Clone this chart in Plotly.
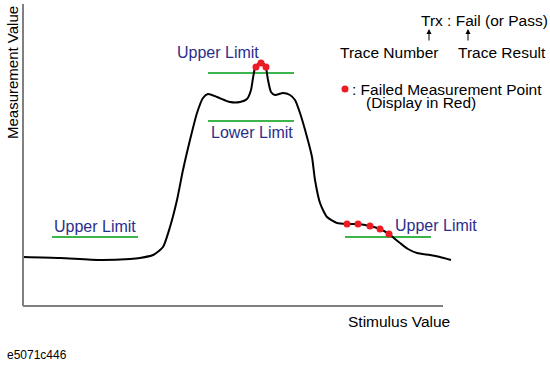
import plotly.graph_objects as go

# Trace (stimulus units, measurement units; origin at the axis corner)
trace_x = [0, 37, 77, 107, 117, 130, 140, 147, 154, 160, 167, 174, 180, 185, 194, 207, 217,
           224, 228, 230, 232, 235, 238, 241, 243, 245, 248, 252, 260, 267, 272, 277, 284,
           289, 292, 297, 304, 314, 324, 335, 347, 357, 366, 372, 377, 385, 394, 407, 417, 428]
trace_y = [49, 48, 46, 47, 48, 51, 59, 79, 106, 136, 166, 193, 208, 212, 209, 204, 204,
           207, 216, 228, 238, 242, 243, 242, 238, 226, 214, 211, 213, 211, 206, 193, 169,
           149, 126, 103, 89, 83, 82, 82, 80, 77, 72, 67, 63, 57, 53, 51, 49, 46]

# Failed measurement points
fail_x = [233, 238, 243, 324, 335, 347, 357, 366]
fail_y = [239, 243, 239, 82, 82, 80, 77, 72]

# Limit lines: (x start, x end, level)
limit_x0 = [29, 185, 185, 322]
limit_x1 = [115, 271, 271, 408]
limit_y = [69, 233, 185, 69]
limit_labels = ["Upper Limit", "Upper Limit", "Lower Limit", "Upper Limit"]
limit_label_x = [72, 195, 229, 413]
limit_label_y = [80, 254, 174, 81]

NAVY = "#2B2E8C"
GREEN = "#3DB54A"
RED = "#ED1C24"
FONT = "Liberation Sans, Arial, sans-serif"

fig = go.Figure()

for x0, x1, y in zip(limit_x0, limit_x1, limit_y):
    fig.add_trace(go.Scatter(x=[x0, x1], y=[y, y], mode="lines",
                             line=dict(color=GREEN, width=2), hoverinfo="skip"))

fig.add_trace(go.Scatter(x=trace_x, y=trace_y, mode="lines",
                         line=dict(color="black", width=2, shape="spline", smoothing=0.6)))

fig.add_trace(go.Scatter(x=fail_x, y=fail_y, mode="markers",
                         marker=dict(color=RED, size=7)))

# legend dot
fig.add_trace(go.Scatter(x=[322], y=[217], mode="markers", marker=dict(color=RED, size=7)))

# axis lines
fig.add_shape(type="line", x0=0, x1=0, y0=0, y1=302, line=dict(color="#808080", width=2))
fig.add_shape(type="line", x0=0, x1=420, y0=0, y1=0, line=dict(color="#808080", width=2))

for txt, x, y in zip(limit_labels, limit_label_x, limit_label_y):
    fig.add_annotation(x=x, y=y, text=txt, showarrow=False,
                       font=dict(family=FONT, size=16, color=NAVY))

black = dict(family=FONT, size=15.5, color="black")
fig.add_annotation(x=461, y=286, text="Trx : Fail (or Pass)", showarrow=False, font=black)
fig.add_annotation(x=366, y=254, text="Trace Number", showarrow=False, font=black)
fig.add_annotation(x=479, y=254, text="Trace Result", showarrow=False, font=black)
fig.add_annotation(x=327, y=217, text=": Failed Measurement Point", showarrow=False,
                   xanchor="left", font=black)
fig.add_annotation(x=341, y=204, text="(Display in Red)", showarrow=False,
                   xanchor="left", font=black)
fig.add_annotation(x=376, y=-15, text="Stimulus Value", showarrow=False, font=black)
fig.add_annotation(x=-11, y=233, text="Measurement Value", showarrow=False, textangle=-90,
                   font=dict(family=FONT, size=15, color="black"))
fig.add_annotation(x=-18, y=-49, text="e5071c446", showarrow=False, xanchor="left",
                   font=dict(family=FONT, size=12, color="black"))

for ax_x in [406, 445]:
    fig.add_annotation(x=ax_x, y=277, ax=0, ay=13, text="", showarrow=True,
                       arrowhead=2, arrowsize=1, arrowwidth=1, arrowcolor="black",
                       standoff=0, startstandoff=0)

fig.update_layout(
    width=550, height=365, margin=dict(l=0, r=0, t=0, b=0),
    paper_bgcolor="white", plot_bgcolor="white", showlegend=False,
    xaxis=dict(range=[-23, 527], visible=False, fixedrange=True),
    yaxis=dict(range=[-59, 306], visible=False, fixedrange=True),
)

fig.write_html("out.html", config={"displayModeBar": False},
               post_script="document.body.style.margin='0';")
